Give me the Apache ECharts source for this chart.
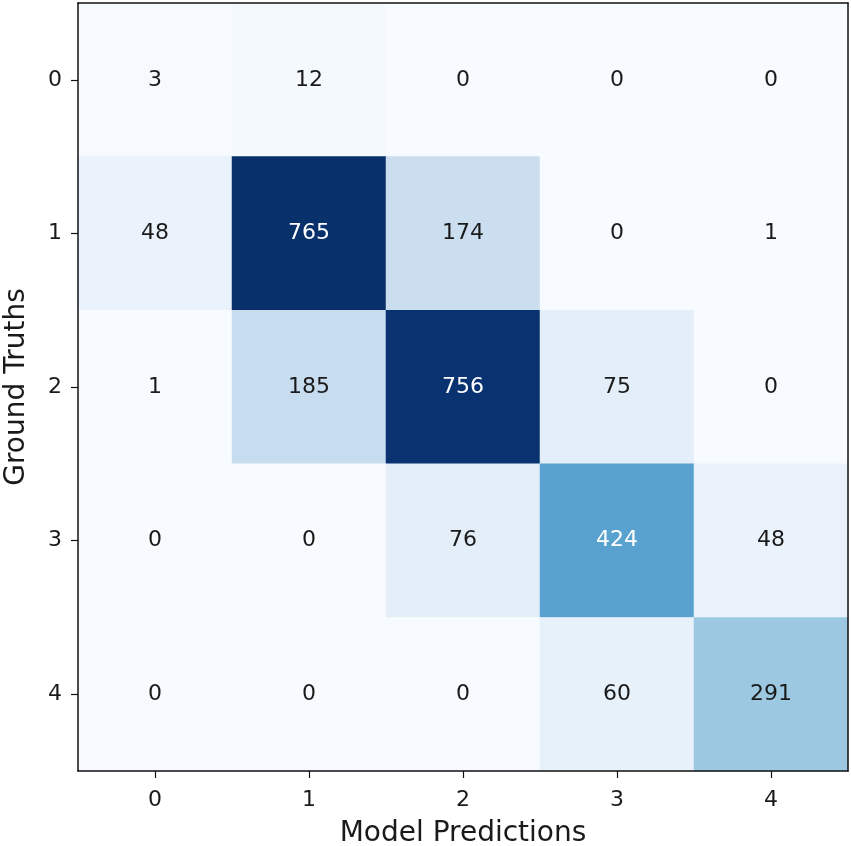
<!DOCTYPE html>
<html>
<head>
<meta charset="utf-8">
<script src="https://cdn.jsdelivr.net/npm/echarts@6/dist/echarts.min.js"></script>
<style>
  html, body { margin: 0; padding: 0; background: #fff; }
  #chart { width: 851px; height: 846px; }
</style>
</head>
<body>
<div id="chart"></div>
<script>
// 混淆矩阵
var predLabels = ['0', '1', '2', '3', '4'];
var truthLabels = ['0', '1', '2', '3', '4'];
// 每行是一个真实类别
var row0 = [3, 12, 0, 0, 0];
var row1 = [48, 765, 174, 0, 1];
var row2 = [1, 185, 756, 75, 0];
var row3 = [0, 0, 76, 424, 48];
var row4 = [0, 0, 0, 60, 291];
var matrix = [row0, row1, row2, row3, row4];

// matplotlib Blues
var blues = ['#f7fbff', '#deebf7', '#c6dbef', '#9ecae1', '#6baed6',
             '#4292c6', '#2171b5', '#08519c', '#08306b'];

var maxVal = 0;
matrix.forEach(function (r) { r.forEach(function (v) { if (v > maxVal) maxVal = v; }); });
var thresh = maxVal / 2;

var data = [];
matrix.forEach(function (r, y) {
  r.forEach(function (v, x) {
    data.push({
      value: [x, y, v],
      label: { color: v > thresh ? '#ffffff' : '#1a1a1a' }
    });
  });
});

var myChart = echarts.init(document.getElementById('chart'));

var font = 'DejaVu Sans';
var lineCol = '#111';

// 上边框和右边框用不带刻度的轴线画
var frameAxis = {
  type: 'category',
  z: 10,
  axisLine: { show: true, lineStyle: { color: lineCol, width: 1.5 } },
  axisTick: { show: false },
  axisLabel: { show: false },
  splitLine: { show: false }
};

var option = {
  backgroundColor: '#ffffff',
  animation: false,
  grid: {
    left: 78, right: 3, top: 3, bottom: 75,
    containLabel: false,
    outerBoundsMode: 'none'
  },
  xAxis: [{
    type: 'category',
    data: predLabels,
    z: 10,
    name: 'Model Predictions',
    nameLocation: 'middle',
    nameGap: 49,
    nameTextStyle: { fontFamily: font, fontSize: 28, color: '#1a1a1a' },
    axisLine: { show: true, lineStyle: { color: lineCol, width: 1.5 } },
    axisTick: { show: true, alignWithLabel: true, length: 7, lineStyle: { color: lineCol, width: 1.2 } },
    axisLabel: { fontFamily: font, fontSize: 22, color: '#1a1a1a', margin: 18 },
    splitLine: { show: false }
  }, Object.assign({ position: 'top', data: predLabels }, frameAxis)],
  yAxis: [{
    type: 'category',
    data: truthLabels,
    inverse: true,
    z: 10,
    name: 'Ground Truths',
    nameLocation: 'middle',
    nameGap: 47,
    nameTextStyle: { fontFamily: font, fontSize: 28, color: '#1a1a1a' },
    axisLine: { show: true, lineStyle: { color: lineCol, width: 1.5 } },
    axisTick: { show: true, alignWithLabel: true, length: 7, lineStyle: { color: lineCol, width: 1.2 } },
    axisLabel: { fontFamily: font, fontSize: 22, color: '#1a1a1a', margin: 16 },
    splitLine: { show: false }
  }, Object.assign({ position: 'right', data: truthLabels, inverse: true }, frameAxis)],
  visualMap: {
    show: false,
    min: 0,
    max: maxVal,
    dimension: 2,
    inRange: { color: blues }
  },
  series: [{
    type: 'heatmap',
    data: data,
    label: {
      show: true,
      fontFamily: font,
      fontSize: 22
    },
    itemStyle: { borderWidth: 0 },
    emphasis: { disabled: true }
  }]
};

myChart.setOption(option);
</script>
</body>
</html>
